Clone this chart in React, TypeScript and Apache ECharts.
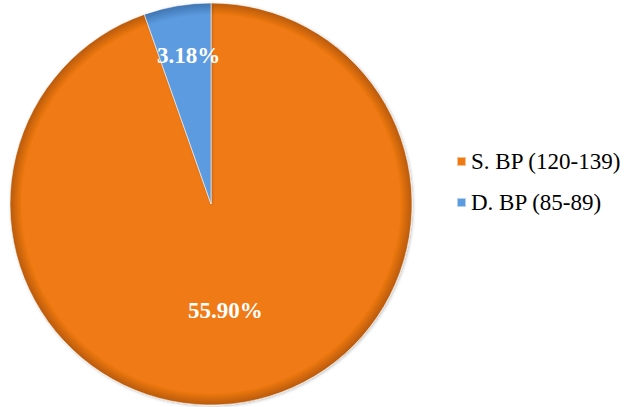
import React, { useEffect, useRef } from "react";
import * as echarts from "echarts";

const categories = ["S. BP (120-139)", "D. BP (85-89)"];
const values = [55.9, 3.18];
const colors = ["#F07A12", "#5B9BE0"];
const edgeColors = ["#B85A0A", "#3F74B0"];

export default function App() {
  const ref = useRef<HTMLDivElement>(null);
  useEffect(() => {
    document.body.style.margin = "0";
    const chart = echarts.init(ref.current!, null, { renderer: "svg" });
    const cx = 211;
    const cy = 204;
    const R = 201;
    const serif = "'Liberation Serif', 'Times New Roman', serif";
    const data = categories.map((name, i) => ({
      name,
      value: values[i],
      itemStyle: {
        color: {
          type: "radial",
          x: cx,
          y: cy,
          r: R,
          global: true,
          colorStops: [
            { offset: 0, color: colors[i] },
            { offset: 0.94, color: colors[i] },
            { offset: 1, color: edgeColors[i] },
          ],
        },
      },
    }));
    const legendText = { fontFamily: serif, fontSize: 23, color: "#000000" };
    chart.setOption({
      animation: false,
      backgroundColor: "#ffffff",
      legend: {
        orient: "vertical",
        left: 451,
        top: 145,
        itemWidth: 9,
        itemHeight: 9,
        itemGap: 18,
        icon: "rect",
        data: categories.map((name, i) => ({
          name,
          itemStyle: { color: colors[i] },
          textStyle: legendText,
        })),
        textStyle: legendText,
      },
      series: [
        {
          type: "pie",
          center: [cx, cy],
          radius: [0, R],
          startAngle: 90,
          clockwise: true,
          data,
          itemStyle: {
            borderColor: "rgba(255,255,255,0.55)",
            borderWidth: 1,
            shadowColor: "rgba(0,0,0,0.25)",
            shadowBlur: 3,
            shadowOffsetX: 1,
            shadowOffsetY: 1,
          },
          label: {
            show: true,
            position: "inside",
            formatter: (p: any) => p.value.toFixed(2) + "%",
            fontFamily: serif,
            fontWeight: "bold",
            fontSize: 23,
            color: "#ffffff",
          },
          labelLine: { show: false },
          labelLayout: (p: any) =>
            p.dataIndex === 1 ? { dx: -5, dy: -46 } : { dx: -3, dy: 4 },
          emphasis: { disabled: true },
        },
      ],
    });
    return () => chart.dispose();
  }, []);
  return <div ref={ref} style={{ width: 625, height: 407 }} />;
}
